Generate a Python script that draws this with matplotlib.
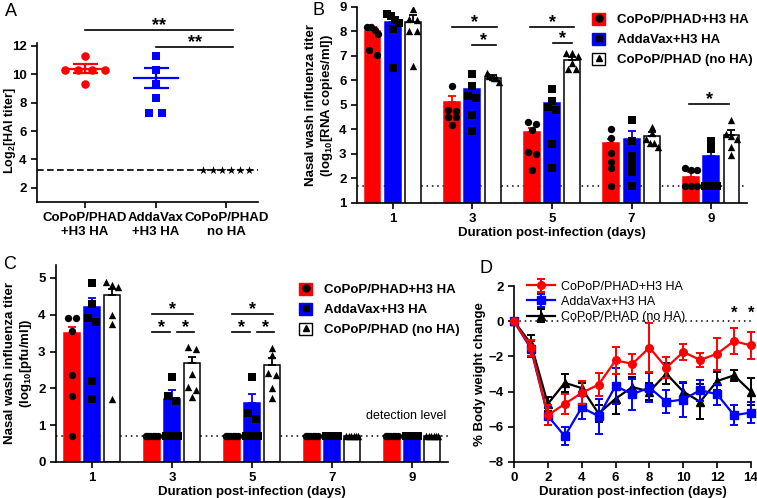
import matplotlib.pyplot as plt
import numpy as np
from matplotlib.patches import Patch
from matplotlib.lines import Line2D

plt.rcParams['font.family'] = ['Liberation Sans', 'DejaVu Sans']
plt.rcParams['font.size'] = 9.5
plt.rcParams['font.weight'] = 'bold'
plt.rcParams['axes.labelweight'] = 'bold'
plt.rcParams['axes.linewidth'] = 1.2
plt.rcParams['xtick.major.width'] = 1.2
plt.rcParams['ytick.major.width'] = 1.2
plt.rcParams['xtick.major.size'] = 4
plt.rcParams['ytick.major.size'] = 4
plt.rcParams['mathtext.fontset'] = 'custom'
plt.rcParams['mathtext.rm'] = 'Liberation Sans:bold'
plt.rcParams['mathtext.bf'] = 'Liberation Sans:bold'
plt.rcParams['mathtext.default'] = 'rm'

RED = '#ff0000'
BLUE = '#0000ff'

# ---- panel A : HAI titers
a_labels = ['CoPoP/PHAD\n+H3 HA', 'AddaVax\n+H3 HA', 'CoPoP/PHAD\nno HA']
a_red = [11.3, 10.3, 10.3, 10.3, 10.3, 9.3]
a_blue = [11.3, 10.3, 9.3, 8.3, 7.3, 7.3]
a_noha = [3.25, 3.25, 3.25, 3.25, 3.25, 3.25]
a_mean = [10.4, 9.75]
a_sem = [0.3, 0.7]
a_limit = 3.25

# ---- panel B : RNA copies in nasal wash
days = [1, 3, 5, 7, 9]
b_mean = [[8.02, 5.13, 3.88, 3.43, 2.07],
          [8.38, 5.67, 5.10, 3.63, 2.91],
          [8.38, 6.12, 6.85, 3.73, 3.77]]
b_sem = [[0.18, 0.23, 0.20, 0.17, 0.20],
         [0.12, 0.23, 0.20, 0.30, 0.28],
         [0.28, 0.10, 0.12, 0.17, 0.20]]
b_red_pts = [[8.2, 8.2, 8.05, 7.9, 7.25, 7.05],
             [5.77, 4.8, 4.75, 4.5, 4.5, 4.2],
             [4.31, 4.22, 3.97, 3.09, 3.0, 2.34],
             [4.0, 3.64, 3.05, 2.68, 2.41, 1.69],
             [2.41, 2.34, 2.34, 1.69, 1.69, 1.69]]
b_blue_pts = [[8.7, 8.65, 8.45, 8.35, 8.1, 6.5],
              [6.26, 5.77, 5.36, 5.3, 4.58, 3.95],
              [5.67, 5.17, 4.92, 4.79, 3.4, 2.41],
              [4.38, 3.53, 2.91, 2.59, 2.27, 1.69],
              [3.54, 3.19, 1.69, 1.69, 1.69, 1.69]]
b_noha_pts = [[8.93, 8.5, 8.45, 8.0, 8.0, 6.6],
              [6.3, 6.2, 6.15, 6.1, 6.1, 5.95],
              [7.12, 7.12, 7.0, 6.7, 6.45, 6.45],
              [4.1, 3.85, 3.6, 3.45, 3.45, 3.3],
              [4.38, 3.8, 3.75, 3.6, 3.3, 2.95]]
b_limit = 1.68

# ---- panel C : pfu in nasal wash
c_mean = [[3.5, 0.7, 0.7, 0.7, 0.7],
          [4.22, 1.71, 1.61, 0.7, 0.7],
          [4.54, 2.68, 2.63, 0.7, 0.7]]
c_sem = [[0.17, 0, 0, 0, 0],
         [0.22, 0.24, 0.25, 0, 0],
         [0.17, 0.17, 0.2, 0, 0]]
c_red_pts = [[3.9, 3.9, 3.55, 2.35, 1.8, 0.7],
             [0.7] * 6, [0.7] * 6, [0.7] * 6, [0.7] * 6]
c_blue_pts = [[4.85, 4.3, 3.9, 3.8, 2.2, 1.7],
              [2.32, 1.79, 1.66, 0.7, 0.7, 0.7],
              [2.32, 1.32, 1.18, 0.7, 0.7, 0.7],
              [0.7] * 6, [0.7] * 6]
c_noha_pts = [[4.9, 4.8, 4.75, 4.0, 3.75, 1.7],
              [3.11, 3.06, 2.39, 2.04, 1.95, 1.77],
              [3.1, 2.9, 2.43, 2.35, 2.0, 1.73],
              [0.7] * 6, [0.7] * 6]
c_limit = 0.7

# ---- panel D : body weight
d_days = list(range(15))
d_red = [0, -1.5, -5.34, -4.7, -4.07, -3.6, -2.23, -2.42, -1.5, -2.64, -1.75, -2.2, -1.85, -1.13, -1.38]
d_red_err = [0, 0.45, 0.57, 0.57, 0.66, 0.66, 0.77, 0.57, 1.37, 0.6, 0.47, 0.38, 0.9, 0.73, 0.75]
d_blue = [0, -1.57, -5.38, -6.53, -4.9, -5.4, -3.68, -4.15, -3.77, -4.58, -4.45, -3.92, -4.15, -5.34, -5.19]
d_blue_err = [0, 0.45, 0.5, 0.52, 0.66, 1.0, 1.0, 0.88, 0.8, 0.66, 1.0, 0.6, 0.6, 0.58, 0.6]
d_black = [0, -1.28, -4.7, -3.5, -3.8, -5.25, -4.4, -3.74, -4.0, -2.98, -4.0, -4.58, -3.4, -3.08, -4.0]
d_black_err = [0, 0.47, 0.42, 0.5, 0.3, 0.5, 0.85, 0.57, 0.5, 0.6, 0.5, 1.0, 0.5, 0.3, 0.75]

legend_names = ['CoPoP/PHAD+H3 HA', 'AddaVax+H3 HA', 'CoPoP/PHAD (no HA)']


def swarm(vals, center, step, thresh, maxspan):
    # spread points that sit at about the same height side by side
    vals = np.asarray(vals, float)
    order = np.argsort(-vals, kind='stable')
    clusters = []
    for i in order:
        if clusters and abs(vals[clusters[-1][-1]] - vals[i]) < thresh:
            clusters[-1].append(i)
        else:
            clusters.append([i])
    xs = np.zeros(len(vals))
    for c in clusters:
        n = len(c)
        s = step if n < 2 else min(step, maxspan / (n - 1))
        for k, i in enumerate(c):
            xs[i] = center + (k - (n - 1) / 2) * s
    return xs


def sig(ax, x1, x2, y, text='*', size=13):
    ax.plot([x1, x2], [y, y], color='black', lw=1.2, clip_on=False)
    ax.annotate(text, xy=((x1 + x2) / 2, y), xytext=(0, -3), textcoords='offset points',
                ha='center', va='bottom', fontsize=size, fontweight='bold', annotation_clip=False)


def clean(ax):
    ax.spines['top'].set_visible(False)
    ax.spines['right'].set_visible(False)


styles = [(RED, RED, RED, 'o'), (BLUE, BLUE, BLUE, 's'), ('white', 'black', 'black', '^')]


def bar_panel(ax, means, sems, points, limit, thresh):
    offsets = [-0.51, 0, 0.51]
    for g, (fc, ec, errc, marker) in enumerate(styles):
        xpos = np.array(days) + offsets[g]
        ax.bar(xpos, means[g], width=0.4, color=fc, edgecolor=ec, lw=1.1, zorder=2)
        up = np.array(sems[g])
        ax.errorbar(xpos, means[g], yerr=[np.zeros(len(up)), up], fmt='none', ecolor=errc,
                    elinewidth=1.3, capsize=3, capthick=1.3, zorder=3)
        for x, pts in zip(xpos, points[g]):
            ax.scatter(swarm(pts, x, 0.2, thresh, 0.3), pts, marker=marker, s=28,
                       color='black', lw=0, zorder=4)
    ax.axhline(limit, ls=(0, (1, 2.5)), color='black', lw=1.1, zorder=1)
    ax.set_xlim(0.1, 9.9)
    ax.set_xticks(days)
    ax.set_xlabel('Duration post-infection (days)', labelpad=1)
    clean(ax)


def bar_legend(ax, anchor):
    handles = []
    for fc, ec, errc, marker in styles:
        handles.append((Patch(facecolor=fc, edgecolor=ec if fc == 'white' else fc, lw=1),
                        Line2D([], [], marker=marker, color='black', ls='none', markersize=5)))
    ax.legend(handles, legend_names, loc='upper right', bbox_to_anchor=anchor, frameon=False,
              handlelength=1.0, handleheight=1.0, labelspacing=0.5, handletextpad=0.9,
              prop={'weight': 'bold', 'size': 9.5})


fig = plt.figure(figsize=(7.57, 4.98), dpi=100)

# ---------------- A
axA = fig.add_axes([0.0489, 0.5944, 0.292, 0.319])
for i, (vals, color, marker) in enumerate([(a_red, RED, 'o'), (a_blue, BLUE, 's')]):
    axA.scatter(swarm(vals, i, 0.19, 0.3, 0.6), vals, marker=marker, s=38, color=color, lw=0, zorder=3)
    axA.plot([i - 0.31, i + 0.31], [a_mean[i]] * 2, color=color, lw=1.6, zorder=2)
    axA.errorbar(i, a_mean[i], yerr=a_sem[i], fmt='none', ecolor=color, elinewidth=1.6,
                 capsize=9, capthick=1.6, zorder=2)
axA.scatter(swarm(a_noha, 2, 0.13, 0.3, 0.65), a_noha, marker='*', s=40, color='black', lw=0, zorder=3)
axA.axhline(a_limit, ls=(0, (4, 2)), color='black', lw=1.2, zorder=1)
axA.set_xlim(-0.68, 2.45)
axA.set_ylim(1, 12.2)
axA.set_yticks([2, 4, 6, 8, 10, 12])
axA.set_xticks([0, 1, 2])
axA.set_xticklabels(a_labels)
axA.set_ylabel('Log$_{2}$[HAI titer]', fontsize=9)
axA.yaxis.set_label_coords(-0.085, 0.45)
sig(axA, 0, 2.1, 13.1, '**', 13)
sig(axA, 1, 2.1, 11.95, '**', 13)
clean(axA)

# ---------------- B
axB = fig.add_axes([0.4716, 0.5924, 0.5152, 0.3936])
bar_panel(axB, b_mean, b_sem, [b_red_pts, b_blue_pts, b_noha_pts], b_limit, 0.22)
axB.set_ylim(1, 9)
axB.set_yticks(range(1, 10))
axB.set_ylabel('Nasal wash influenza titer\n(log$_{10}$[RNA copies/ml])', labelpad=3)
sig(axB, 2.49, 3.61, 8.17)
sig(axB, 2.98, 3.59, 7.44)
sig(axB, 4.45, 5.55, 8.18)
sig(axB, 5.03, 5.5, 7.53)
sig(axB, 8.43, 9.46, 5.03)
bar_legend(axB, (1.045, 1.03))

# ---------------- C
axC = fig.add_axes([0.074, 0.0723, 0.5178, 0.3956])
bar_panel(axC, c_mean, c_sem, [c_red_pts, c_blue_pts, c_noha_pts], c_limit, 0.15)
axC.set_ylim(0, 5.35)
axC.set_yticks(range(6))
axC.set_ylabel('Nasal wash influenza titer\n(log$_{10}$[pfu/ml])', labelpad=3)
axC.text(8.85, 1.08, 'detection level', ha='center', va='bottom', fontsize=9, fontweight='normal')
for d in [3, 5]:
    sig(axC, d - 0.5, d + 0.52, 4.02)
    sig(axC, d - 0.5, d - 0.04, 3.53)
    sig(axC, d + 0.13, d + 0.55, 3.53)
bar_legend(axC, (1.06, 0.97))

# ---------------- D
axD = fig.add_axes([0.679, 0.0723, 0.313, 0.3534])
for vals, err, color, marker, name, z in [(d_red, d_red_err, RED, 'o', legend_names[0], 5),
                                          (d_blue, d_blue_err, BLUE, 's', legend_names[1], 4),
                                          (d_black, d_black_err, 'black', '^', legend_names[2], 3)]:
    axD.errorbar(d_days, vals, yerr=err, color=color, marker=marker, markersize=5.5, lw=1.6,
                 elinewidth=1.4, capsize=3, capthick=1.4, label=name, zorder=z, clip_on=False)
axD.axhline(0, ls=(0, (1, 2.5)), color='black', lw=1.1, zorder=1)
axD.set_xlim(0, 14)
axD.set_ylim(-8, 2)
axD.set_xticks(range(0, 15, 2))
axD.set_yticks(range(-8, 3, 2))
axD.set_xlabel('Duration post-infection (days)', labelpad=1)
axD.set_ylabel('% Body weight change', labelpad=2)
for d in [13, 14]:
    axD.text(d, 0.05, '*', ha='center', va='bottom', fontsize=12, fontweight='bold')
axD.legend(loc='upper left', bbox_to_anchor=(0.02, 1.08), frameon=False, handlelength=2.2,
           labelspacing=0.25, handletextpad=0.5, borderpad=0.2,
           prop={'weight': 'normal', 'size': 9})
clean(axD)

for letter, x, y in [('A', 0.006, 0.976), ('B', 0.413, 0.978), ('C', 0.004, 0.468), ('D', 0.634, 0.46)]:
    fig.text(x, y, letter, fontsize=13, fontweight='normal', va='center')

fig.savefig('out.png', dpi=100)
